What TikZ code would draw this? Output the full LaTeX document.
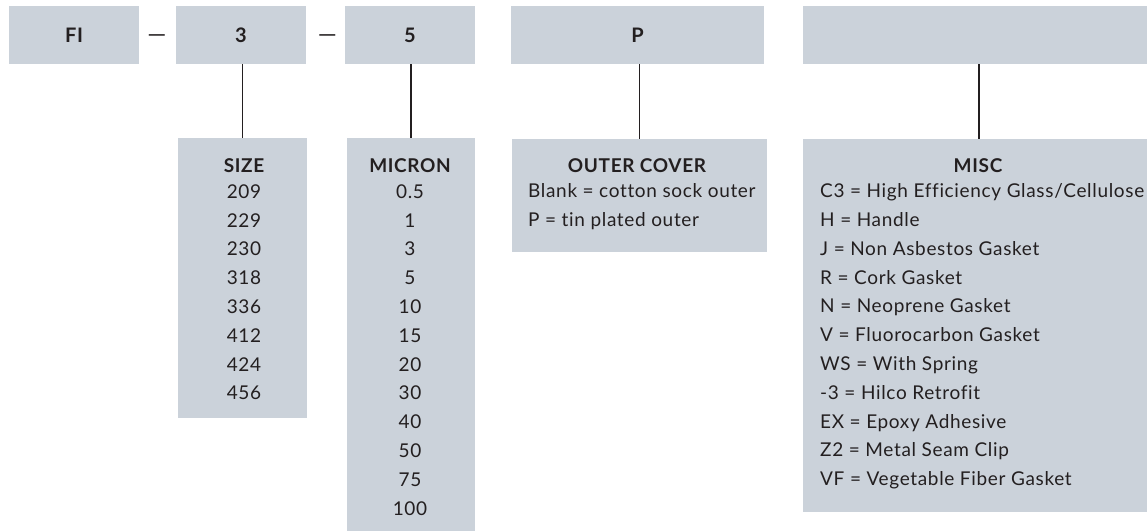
\documentclass[tikz,border=0pt]{standalone}
\usepackage{fontspec}
\setmainfont{Lato}[LetterSpace=3.5, Ligatures=NoCommon]
\definecolor{boxgray}{RGB}{203,210,218}
\definecolor{ink}{RGB}{35,31,32}

\begin{document}
\begin{tikzpicture}[x=1pt,y=-1pt,
    codebox/.style={fill=boxgray, minimum height=58pt, inner sep=0pt, text=ink, font=\fontsize{20}{24}\selectfont\bfseries},
    listbox/.style={fill=boxgray, inner sep=0pt},
    listtext/.style={inner sep=0pt, text=ink, font=\fontsize{19}{28.8}\selectfont},
    stem/.style={draw=ink, line width=1.5pt}]
  \useasboundingbox (0,0) rectangle (1147,531);

  % part number row
  \node[codebox, minimum width=130pt](fi) at (74,35){FI};
  \node[text=ink, inner sep=0pt, font=\fontsize{24}{24}\selectfont](dash1) at (157,39){—};
  \node[codebox, minimum width=130pt](code3) at (241,35){3};
  \node[text=ink, inner sep=0pt, font=\fontsize{24}{24}\selectfont](dash2) at (327.5,39){—};
  \node[codebox, minimum width=130pt](code5) at (410,35){5};
  \node[codebox, minimum width=253pt](codep) at (637.5,35){P};
  \node[codebox, minimum width=352pt](codemisc) at (979,35){};

  % option lists
  \node[listbox, minimum width=129pt, minimum height=280pt](size) at (242.5,278){};
  \node[listbox, minimum width=128pt, minimum height=393pt](micron) at (411,334.5){};
  \node[listbox, minimum width=255pt, minimum height=113pt](outer) at (639.5,195.5){};
  \node[listbox, minimum width=352pt, minimum height=373pt](misc) at (979,325.5){};

  \node[listtext, anchor=north, align=center](sizetxt) at (244,158.3){{\bfseries SIZE}\\[-3pt]209\\229\\230\\318\\336\\412\\424\\456};
  \node[listtext, anchor=north, align=center](microntxt) at (410,158.3){{\bfseries MICRON}\\[-3pt]0.5\\1\\3\\5\\10\\15\\20\\30\\40\\50\\75\\100};
  \node[listtext, anchor=north, font=\fontsize{19}{28.8}\selectfont\bfseries](outerhead) at (637,158.3){OUTER COVER};
  \node[listtext, anchor=north west, align=left](outertxt) at (528,183.5){Blank = cotton sock outer\\P = tin plated outer};
  \node[listtext, anchor=north, font=\fontsize{19}{28.8}\selectfont\bfseries](mischead) at (978,158.3){MISC};
  \node[listtext, anchor=north west, align=left](misctxt) at (820,183.5){C3 = High Efficiency Glass/Cellulose\\H = Handle\\J = Non Asbestos Gasket\\R = Cork Gasket\\N = Neoprene Gasket\\V = Fluorocarbon Gasket\\WS = With Spring\\-3 = Hilco Retrofit\\EX = Epoxy Adhesive\\Z2 = Metal Seam Clip\\VF = Vegetable Fiber Gasket};

  % stems
  \draw[stem] (size.north) -- (size.north |- code3.south);
  \draw[stem] (micron.north) -- (micron.north |- code5.south);
  \draw[stem] (outer.north) -- (outer.north |- codep.south);
  \draw[stem] (misc.north) -- (misc.north |- codemisc.south);
\end{tikzpicture}
\end{document}
